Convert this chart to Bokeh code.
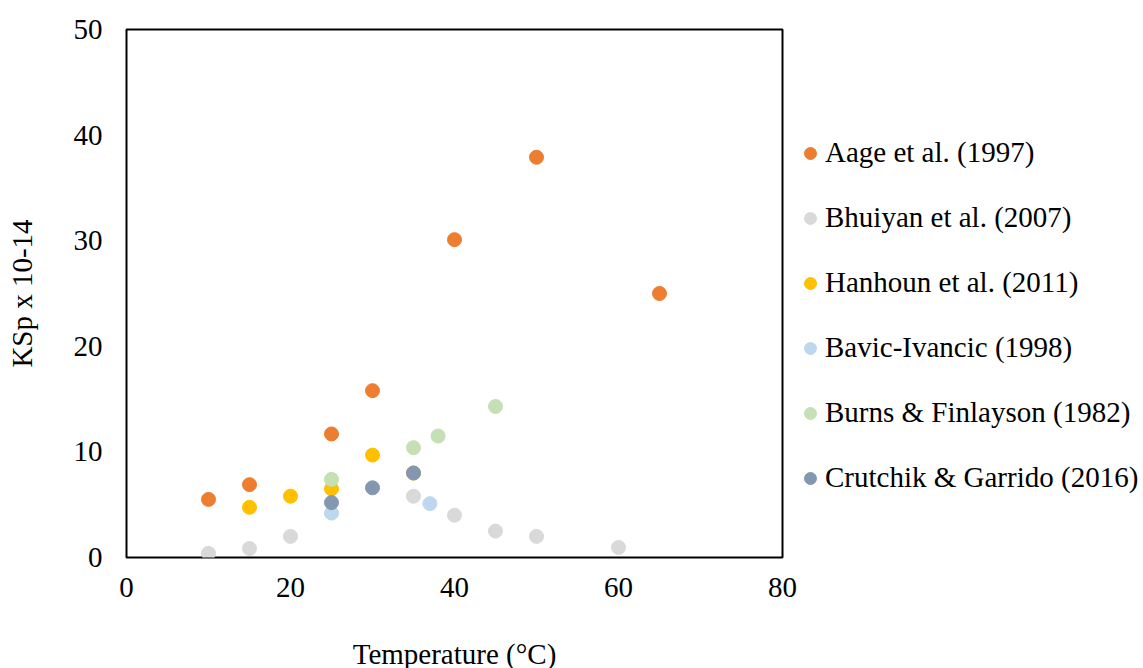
from bokeh.plotting import figure
from bokeh.models import Range1d, Legend, LegendItem, FixedTicker
from bokeh.embed import file_html
from bokeh.resources import INLINE

series_names = ["Aage et al. (1997)", "Bhuiyan et al. (2007)", "Hanhoun et al. (2011)",
                "Bavic-Ivancic (1998)", "Burns & Finlayson (1982)", "Crutchik & Garrido (2016)"]
series_colors = ["#ED7D31", "#D9D9D9", "#FFC000", "#BDD7EE", "#C5E0B4", "#8497B0"]

aage_x = [10, 15, 25, 30, 40, 50, 65]
aage_y = [5.5, 6.9, 11.7, 15.8, 30.1, 37.9, 25.0]
bhuiyan_x = [10, 15, 20, 35, 40, 45, 50, 60]
bhuiyan_y = [0.4, 0.85, 2.0, 5.8, 4.0, 2.5, 2.0, 0.95]
hanhoun_x = [15, 20, 25, 30, 35]
hanhoun_y = [4.75, 5.8, 6.5, 9.7, 8.0]
bavic_x = [25, 37]
bavic_y = [4.2, 5.1]
burns_x = [25, 35, 38, 45]
burns_y = [7.4, 10.4, 11.5, 14.3]
crutchik_x = [25, 30, 35]
crutchik_y = [5.2, 6.6, 8.0]

x_ticks = [0, 20, 40, 60, 80]
y_ticks = [0, 10, 20, 30, 40, 50]

FONT = "Liberation Serif"

p = figure(frame_width=656, frame_height=528, output_backend="svg", toolbar_location=None,
           x_range=Range1d(0, 80), y_range=Range1d(0, 50),
           min_border_left=126, min_border_right=0, min_border_top=29, min_border_bottom=111)
p.xgrid.visible = False
p.ygrid.visible = False
p.outline_line_color = "black"
p.outline_line_width = 2
p.background_fill_color = "white"
p.border_fill_color = "white"

for ax in (p.xaxis[0], p.yaxis[0]):
    ax.axis_line_color = None
    ax.major_tick_line_color = None
    ax.minor_tick_line_color = None
    ax.major_tick_out = 0
    ax.major_tick_in = 0
    ax.minor_tick_out = 0
    ax.major_label_text_font = FONT
    ax.major_label_text_font_size = "29px"
    ax.major_label_text_color = "black"
    ax.axis_label_text_font = FONT
    ax.axis_label_text_font_size = "29px"
    ax.axis_label_text_font_style = "normal"
    ax.axis_label_text_color = "black"

p.xaxis.ticker = FixedTicker(ticks=x_ticks)
p.yaxis.ticker = FixedTicker(ticks=y_ticks)
p.xaxis.major_label_standoff = 20
p.yaxis.major_label_standoff = 24
p.xaxis.axis_label = "Temperature (°C)"
p.yaxis.axis_label = "KSp x 10-14"
p.xaxis.axis_label_standoff = 38
p.yaxis.axis_label_standoff = 33

data = [(aage_x, aage_y), (bhuiyan_x, bhuiyan_y), (hanhoun_x, hanhoun_y),
        (bavic_x, bavic_y), (burns_x, burns_y), (crutchik_x, crutchik_y)]

items = []
for (xs, ys), name, col in zip(data, series_names, series_colors):
    r = p.scatter(xs, ys, size=14, fill_color=col, line_color=col, line_width=1)
    items.append(LegendItem(label=name, renderers=[r]))

legend = Legend(items=items, location=(13, 63), orientation="vertical",
                label_text_font=FONT, label_text_font_size="29px", label_text_color="black",
                glyph_width=30, glyph_height=30, label_height=30, label_standoff=0,
                spacing=32, padding=0, margin=0,
                border_line_color=None, background_fill_alpha=0)
p.add_layout(legend, "right")

open("out.html", "w").write(file_html(p, INLINE))
